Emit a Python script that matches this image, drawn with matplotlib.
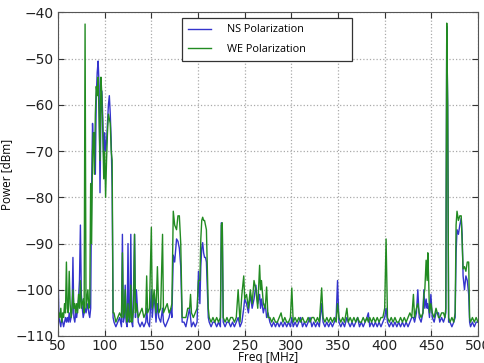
import matplotlib
matplotlib.use("Agg")
import matplotlib.pyplot as plt

# spectrum (MHz, dBm)
FREQ_MHZ = [
    50, 51, 52, 53, 54, 55, 56, 57, 58, 59,
    60, 61, 62, 63, 64, 65, 66, 67, 68, 69,
    70, 71, 72, 73, 74, 75, 76, 77, 78, 79,
    80, 81, 82, 83, 84, 85, 86, 87, 88, 89,
    90, 91, 92, 93, 94, 95, 96, 97, 98, 99,
    100, 101, 102, 103, 104, 105, 106, 107, 108, 109,
    110, 112, 114, 116, 118, 119, 120, 121, 122, 123,
    124, 125, 126, 127, 128, 129, 130, 131, 132, 133,
    134, 136, 138, 140, 142, 144, 145, 146, 148, 150,
    151, 153, 155, 156.5, 158, 160, 162, 163, 165, 167,
    169, 171, 172, 173.5, 175, 177, 178.5, 180, 181.5, 183,
    185, 187, 189, 191, 192, 193, 195, 197, 199, 200.5,
    202, 203, 204, 205, 206, 207, 208, 209, 210, 211,
    212, 214, 216, 218, 220, 222, 224, 225, 226, 227,
    229, 231, 233, 235, 237, 239, 241, 243, 245, 247,
    249, 250, 252, 254, 256, 258, 260, 262, 264, 266,
    267, 268, 270, 272, 273.5, 275, 277, 279, 281, 283,
    285, 287, 289, 291, 293, 295, 297, 299, 300.5, 302,
    304, 306, 308, 310, 312, 314, 316, 318, 320, 322,
    324, 326, 328, 330, 332.5, 334, 336, 338, 340, 342,
    344, 346, 348, 349.5, 351, 353, 355, 357, 359.5, 361,
    363, 365, 367, 369, 371, 373, 375, 377, 379, 381,
    382.5, 384, 386, 388, 390, 392, 394, 396, 398, 400,
    401.5, 403, 405, 407, 409, 411, 413, 415, 417, 419,
    421, 423, 425, 427, 429, 430.8, 432, 434, 435.5, 437,
    439, 441, 442, 443, 444.4, 445.5, 446.2, 447, 448, 449.5,
    451, 453, 455, 457.7, 459, 461, 463, 464.5, 465.5, 466.5,
    467.5, 468.5, 470, 472, 474, 475.5, 476.5, 477.5, 479, 480.5,
    482, 483, 484, 485.5, 487, 488.5, 490, 491, 492, 494,
    496, 498, 500,
]

NS_DBM = [
    -96, -106, -107, -108, -106, -107, -108, -107, -106, -107,
    -106, -107, -105, -107, -106, -105, -93, -106, -107, -105,
    -106, -104, -102, -98, -86, -101, -104, -106, -105, -104,
    -105, -104, -103, -105, -106, -104, -78, -64, -70, -66,
    -75, -58, -53, -50.5, -56, -79, -62, -57, -63, -72,
    -66, -70, -68, -64, -60, -58, -62, -68, -78, -106,
    -107, -108, -107, -106, -108, -88, -107, -106, -99, -107,
    -108, -90, -107, -106, -88, -107, -108, -100, -88, -106,
    -100, -107, -108, -107, -108, -107, -104, -107, -108, -100,
    -106, -101, -107, -103, -106, -107, -104, -107, -108, -107,
    -106, -104, -106, -92.5, -94, -89, -89.5, -91, -95, -107,
    -107, -108, -106, -104, -106, -108, -107, -108, -107, -96,
    -103, -95, -91, -89.8, -92, -93, -93, -94, -100, -106,
    -107, -108, -107, -107, -108, -107, -108, -85.5, -86, -107,
    -108, -107, -107, -108, -107, -108, -107, -106, -108, -107,
    -104, -102, -103, -105, -101, -104, -102, -99, -103, -101,
    -104, -102, -105, -103, -106, -105, -107, -108, -107, -108,
    -107, -108, -107, -108, -107, -108, -107, -108, -106, -108,
    -107, -108, -107, -106, -108, -107, -108, -107, -106, -108,
    -107, -108, -107, -108, -103, -107, -108, -107, -108, -107,
    -108, -107, -106, -98, -107, -108, -107, -108, -106, -107,
    -108, -107, -108, -107, -106, -108, -107, -108, -107, -106,
    -105, -108, -107, -108, -107, -108, -107, -108, -107, -106,
    -104, -107, -108, -107, -108, -107, -108, -107, -108, -107,
    -108, -107, -108, -107, -106, -106, -107, -105, -100, -106,
    -107, -105, -100, -104, -102, -104, -103, -104, -106, -101,
    -106, -107, -105, -105, -107, -106, -107, -106, -105, -43,
    -60, -107, -107, -108, -107, -106, -92, -87, -88, -86,
    -84.5, -88, -97, -100, -97, -98, -101, -107, -108, -107,
    -108, -107, -107,
]

WE_DBM = [
    -107, -105, -106, -104, -107, -105, -106, -103, -105, -94,
    -104, -105, -96, -103, -106, -104, -100, -104, -103, -105,
    -103, -105, -101, -104, -98, -104, -103, -102, -105, -42.5,
    -104, -102, -100, -104, -103, -77, -90, -70, -66, -75,
    -62, -56, -58, -54, -63, -72, -54, -58, -66, -76,
    -70, -80, -72, -66, -62, -63, -64, -70, -72, -105,
    -105, -107, -106, -105, -106, -92, -106, -105, -100, -106,
    -107, -103, -106, -107, -99, -107, -106, -104, -88, -105,
    -103, -106, -105, -104, -106, -105, -97, -105, -104, -86.5,
    -104, -100, -105, -95, -105, -104, -88, -105, -104, -103,
    -105, -104, -103, -83, -86, -87, -84, -84, -90, -106,
    -106, -106, -104, -104, -101, -105, -106, -105, -104, -98,
    -98, -89, -85, -84.3, -85, -85, -86, -87, -96, -104,
    -106, -107, -106, -107, -106, -107, -106, -86, -85.5, -106,
    -107, -106, -107, -106, -106, -107, -106, -100, -107, -101,
    -97, -102, -101, -104, -100, -103, -98, -100, -104, -94.7,
    -100, -98, -103, -104, -99.4, -106, -106, -107, -106, -107,
    -107, -106, -105, -107, -106, -107, -107, -106, -99.6, -107,
    -106, -107, -106, -107, -106, -107, -107, -106, -107, -106,
    -106, -107, -106, -107, -99.6, -106, -107, -106, -107, -106,
    -107, -106, -107, -103, -106, -107, -106, -107, -104, -107,
    -106, -107, -106, -107, -106, -107, -107, -106, -107, -106,
    -107, -106, -107, -106, -107, -106, -107, -106, -106, -104,
    -89, -106, -107, -106, -107, -106, -107, -107, -106, -107,
    -106, -107, -106, -105, -106, -101, -106, -104, -103, -105,
    -106, -105, -101, -100, -93.6, -98, -92, -97, -105, -103,
    -105, -106, -104, -106, -106, -105, -105, -106, -104, -42.3,
    -60, -106, -107, -106, -107, -105, -86, -83, -85, -84,
    -84, -90, -95.5, -95, -96, -94, -94, -106, -107, -106,
    -107, -106, -107,
]

LABELS = ["NS Polarization", "WE Polarization"]
X_TICKS = [50, 100, 150, 200, 250, 300, 350, 400, 450, 500]
Y_TICKS = [-110, -100, -90, -80, -70, -60, -50, -40]


def main():
    fig = plt.figure(figsize=(4.85, 3.63), dpi=100)
    ax = fig.add_axes([0.1196, 0.0744, 0.866, 0.8912])

    ax.plot(FREQ_MHZ, NS_DBM, color="#3434cc", lw=1.0, label=LABELS[0])
    ax.plot(FREQ_MHZ, WE_DBM, color="#228b22", lw=1.0, label=LABELS[1])

    ax.set_xlim(50, 500)
    ax.set_ylim(-110, -40)
    ax.set_xticks(X_TICKS)
    ax.set_yticks(Y_TICKS)
    ax.tick_params(direction="in", top=True, right=True, labelsize=10,
                   length=4, pad=3, colors="#333333", labelcolor="#222222")
    ax.tick_params(axis="x", pad=2)
    ax.grid(True, linestyle=":", color="#aaaaaa", lw=0.9)
    for spine in ax.spines.values():
        spine.set_color("#555555")

    ax.set_xlabel("Freq [MHz]", family="Open Sans", fontsize=8.5, labelpad=-1)
    ax.set_ylabel("Power [dBm]", family="Open Sans", fontsize=8.5, labelpad=2)

    # old-style legend box, wider than its text
    leg = ax.legend(loc="upper left", bbox_to_anchor=(0.295, 0.983, 0.405, 0.0),
                    mode="expand", prop={"family": "Open Sans", "size": 7.8},
                    fancybox=False, framealpha=1, edgecolor="#333333",
                    handlelength=2.1, borderpad=0.6, labelspacing=0.75,
                    handletextpad=1.5, borderaxespad=0.0)
    leg.get_frame().set_linewidth(0.9)

    fig.savefig("out.png", dpi=100)
    plt.close(fig)


if __name__ == "__main__":
    main()
